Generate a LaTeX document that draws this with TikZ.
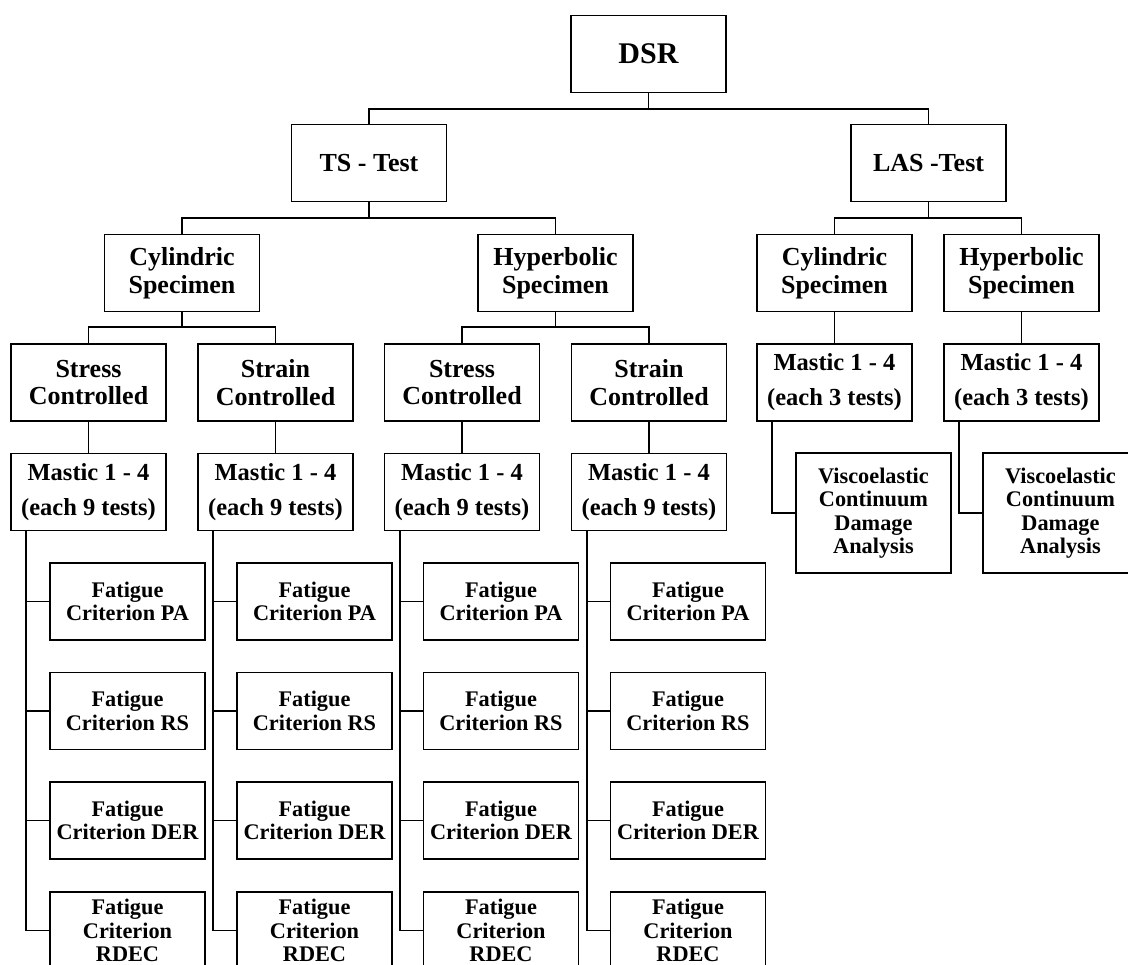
\documentclass[tikz,border=0pt]{standalone}
\usepackage{fontspec}
\setmainfont{Liberation Serif}

\begin{document}
\begin{tikzpicture}[x = 1pt, y = -1pt,
		box/.style     = {draw,
			rectangle,
			align          = center,
			inner sep      = 0pt,
			minimum width  = 155pt,
			minimum height = 77pt,
			line width     = 1.9pt,
			font = \fontsize{26}{27.5}\selectfont\bfseries},
		mastic/.style  = {box,
			font = \fontsize{24.5}{26}\selectfont\bfseries},
		leaf/.style    = {box,
			font = \fontsize{22.3}{23.5}\selectfont\bfseries},
		link/.style    = {line width = 1.9pt}]
		
		\useasboundingbox (0,0) rectangle (1128,965);
		
		% top of the tree
		\node[box, font = \fontsize{30}{32}\selectfont\bfseries] (DSR) at (648.5,54) {DSR};
		
		\node[box] (TS)  at (369,163)   {TS - Test};
		\node[box] (LAS) at (928.5,163) {LAS -Test};
		
		\node[box] (TScyl)  at (182,273)    {Cylindric\\Specimen};
		\node[box] (TShyp)  at (555.5,273)  {Hyperbolic\\Specimen};
		\node[box] (LAScyl) at (834.5,273)  {Cylindric\\Specimen};
		\node[box] (LAShyp) at (1021.5,273) {Hyperbolic\\Specimen};
		
		\node[box] (S1) at (88.5,382.5)  {Stress\\Controlled};
		\node[box] (S2) at (275.5,382.5) {Strain\\Controlled};
		\node[box] (S3) at (462,382.5)   {Stress\\Controlled};
		\node[box] (S4) at (649,382.5)   {Strain\\Controlled};
		
		\node[mastic] (LM1) at (834.5,382.5)  {Mastic 1 - 4\\[9pt](each 3 tests)};
		\node[mastic] (LM2) at (1021.5,382.5) {Mastic 1 - 4\\[9pt](each 3 tests)};
		
		\node[leaf, minimum height = 120pt] (V1) at (873.5,513)  {Viscoelastic\\Continuum\\Damage\\Analysis};
		\node[leaf, minimum height = 120pt] (V2) at (1060.5,513) {Viscoelastic\\Continuum\\Damage\\Analysis};
		
		% forks
		\draw[link] (DSR.south) -- ++(0,16) coordinate (b0) (TS.north) |- (b0) -| (LAS.north);
		\draw[link] (TS.south) -- ++(0,16) coordinate (b1) (TScyl.north) |- (b1) -| (TShyp.north);
		\draw[link] (LAS.south) -- ++(0,16) coordinate (b2) (LAScyl.north) |- (b2) -| (LAShyp.north);
		\draw[link] (TScyl.south) -- ++(0,15) coordinate (b3) (S1.north) |- (b3) -| (S2.north);
		\draw[link] (TShyp.south) -- ++(0,15) coordinate (b4) (S3.north) |- (b4) -| (S4.north);
		\draw[link] (LAScyl.south) -- (LM1.north);
		\draw[link] (LAShyp.south) -- (LM2.north);
		\draw[link] ([xshift=16pt]LM1.south west) |- (V1.west);
		\draw[link] ([xshift=16pt]LM2.south west) |- (V2.west);
		
		% mastic boxes and fatigue criteria
		\foreach \c/\x in {1/88.5, 2/275.5, 3/462, 4/649} {
			\node[mastic] (M\c) at (\x,492) {Mastic 1 - 4\\[9pt](each 9 tests)};
			\draw[link] (S\c.south) -- (M\c.north);
			\foreach \r/\y/\crit in {1/601.5/{Fatigue\\Criterion PA},
				2/711/{Fatigue\\Criterion RS},
				3/820.5/{Fatigue\\Criterion DER},
				4/930.5/{Fatigue\\Criterion\\RDEC}} {
				\node[leaf] (F\c\r) at (\x+39,\y) {\crit};
				\draw[link] ([xshift=16pt]M\c.south west) |- (F\c\r.west);
			}
		}
		
	\end{tikzpicture}
\end{document}
